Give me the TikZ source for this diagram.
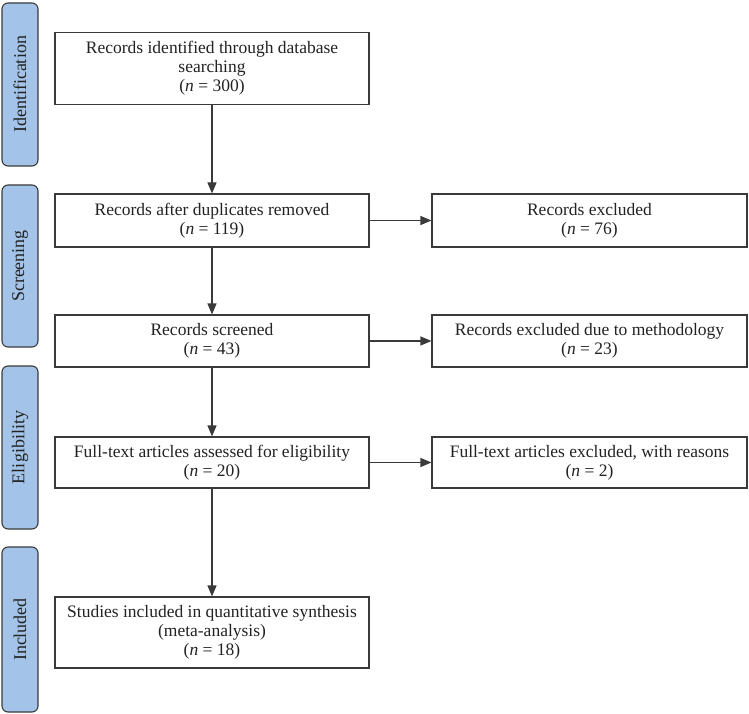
\documentclass[tikz,border=0pt]{standalone}
\usepackage{fontspec}
\setmainfont{Liberation Serif}
\usetikzlibrary{arrows.meta}
\definecolor{sidefill}{HTML}{A3C4E8}
\definecolor{edge}{HTML}{3A3A3A}
\definecolor{txt}{HTML}{222222}
\begin{document}
\begin{tikzpicture}[x=1pt,y=-1pt,
  side/.style={draw=edge, fill=sidefill, rounded corners=6pt, line width=1.1pt, minimum width=36pt, inner sep=0pt},
  sidelabel/.style={rotate=90, font=\fontsize{18}{20}\selectfont, text=txt, inner sep=0pt},
  box/.style={draw=edge, line width=1.1pt, inner sep=0pt, align=center, font=\fontsize{17.5}{18.8}\selectfont, text=txt},
  lbox/.style={box, minimum width=314pt},
  rbox/.style={box, minimum width=315pt},
  arr/.style={draw=edge, line width=1.1pt, -{Triangle[length=11pt,width=9pt]}}]
\useasboundingbox (0,0) rectangle (749,714);

% side bars
\node[side, minimum height=163pt] (s1) at (20,84.5) {};
\node[sidelabel] at (s1) {Identification};
\node[side, minimum height=162pt] (s2) at (20,266) {};
\node[sidelabel] at (s2) {Screening};
\node[side, minimum height=163pt] (s3) at (20,447.5) {};
\node[sidelabel] at (s3) {Eligibility};
\node[side, minimum height=165pt] (s4) at (20,629.5) {};
\node[sidelabel] at (s4) {Included};

% main boxes
\node[lbox, minimum height=72pt] (b1) at (212,68.5) {Records identified through database\\searching\\(\textit{n} = 300)};
\node[lbox, minimum height=53pt] (b2) at (212,220.5) {Records after duplicates removed\\(\textit{n} = 119)};
\node[lbox, minimum height=52pt] (b3) at (212,341) {Records screened\\(\textit{n} = 43)};
\node[lbox, minimum height=51pt] (b4) at (212,462.5) {Full-text articles assessed for eligibility\\(\textit{n} = 20)};
\node[lbox, minimum height=71pt] (b5) at (212,632.5) {Studies included in quantitative synthesis\\(meta-analysis)\\(\textit{n} = 18)};

% exclusion boxes
\node[rbox, minimum height=53pt] (e1) at (589.5,220.5) {Records excluded\\(\textit{n} = 76)};
\node[rbox, minimum height=52pt] (e2) at (589.5,341) {Records excluded due to methodology\\(\textit{n} = 23)};
\node[rbox, minimum height=51pt] (e3) at (589.5,462.5) {Full-text articles excluded, with reasons\\(\textit{n} = 2)};

% arrows
\draw[arr] (b1.south) -- (b2.north);
\draw[arr] (b2.south) -- (b3.north);
\draw[arr] (b3.south) -- (b4.north);
\draw[arr] (b4.south) -- (b5.north);
\draw[arr] (b2.east) -- (e1.west);
\draw[arr] (b3.east) -- (e2.west);
\draw[arr] (b4.east) -- (e3.west);
\end{tikzpicture}
\end{document}
